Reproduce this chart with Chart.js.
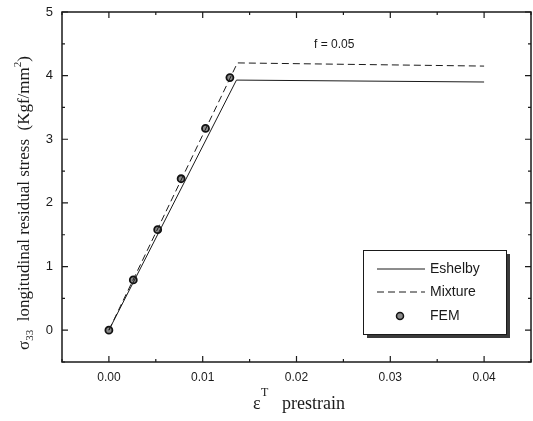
<!DOCTYPE html>
<html>
<head>
<meta charset="utf-8">
<script src="https://cdn.jsdelivr.net/npm/chart.js@4.4.1/dist/chart.umd.min.js"></script>
<style>
  html, body { margin: 0; padding: 0; background: #fff; }
  #wrap { width: 533px; height: 421px; }
</style>
</head>
<body>
<div id="wrap"><canvas id="c" width="533" height="421"></canvas></div>
<script>
// values
const eshelbyX = [0, 0.0136, 0.04];
const eshelbyY = [0, 3.93, 3.90];
const mixtureX = [0, 0.0137, 0.04];
const mixtureY = [0, 4.20, 4.15];
const femX = [0, 0.0026, 0.0052, 0.0077, 0.0103, 0.0129];
const femY = [0, 0.79, 1.58, 2.38, 3.17, 3.97];

const xTicks = [0, 0.01, 0.02, 0.03, 0.04];
const xMinor = [-0.005, 0.005, 0.015, 0.025, 0.035, 0.045];
const yTicks = [0, 1, 2, 3, 4, 5];
const yMinor = [-0.5, 0.5, 1.5, 2.5, 3.5, 4.5];

const INK = "#1a1a1a";
const SANS = "'Liberation Sans', Arial, sans-serif";
const SERIF = "'Liberation Serif', 'Times New Roman', serif";

function pts(xs, ys) {
  return xs.map((x, i) => ({ x: x, y: ys[i] }));
}

// inward ticks on all four sides, frame, titles, legend, note
const decor = {
  id: "decor",
  afterDraw(chart) {
    const ctx = chart.ctx;
    const a = chart.chartArea;
    const xs = chart.scales.x;
    const ys = chart.scales.y;
    ctx.save();
    ctx.strokeStyle = INK;
    ctx.lineWidth = 1.5;
    ctx.strokeRect(a.left, a.top, a.right - a.left, a.bottom - a.top);

    ctx.lineWidth = 1.2;
    ctx.beginPath();
    function xt(list, len) {
      list.forEach((v) => {
        const p = xs.getPixelForValue(v);
        ctx.moveTo(p, a.bottom); ctx.lineTo(p, a.bottom - len);
        ctx.moveTo(p, a.top); ctx.lineTo(p, a.top + len);
      });
    }
    function yt(list, len) {
      list.forEach((v) => {
        const p = ys.getPixelForValue(v);
        ctx.moveTo(a.left, p); ctx.lineTo(a.left + len, p);
        ctx.moveTo(a.right, p); ctx.lineTo(a.right - len, p);
      });
    }
    xt(xTicks, 6); xt(xMinor, 3);
    yt(yTicks, 6); yt(yMinor, 3);
    ctx.stroke();

    // note
    ctx.fillStyle = INK;
    ctx.font = "12px " + SANS;
    ctx.textAlign = "left";
    ctx.textBaseline = "middle";
    ctx.fillText("f = 0.05", 314, 45);

    // x title
    ctx.textBaseline = "alphabetic";
    ctx.font = "18px " + SERIF;
    ctx.fillText("\u03b5", 253, 409);
    ctx.font = "12px " + SERIF;
    ctx.fillText("T", 261, 396);
    ctx.font = "18px " + SERIF;
    ctx.fillText("prestrain", 282, 409);

    // y title (rotated)
    ctx.save();
    ctx.translate(29, 203);
    ctx.rotate(-Math.PI / 2);
    const parts = [
      { t: "\u03c3", f: "17px " + SERIF, dy: 0 },
      { t: "33", f: "11px " + SERIF, dy: 4 },
      { t: "  longitudinal residual stress  (Kgf/mm", f: "17px " + SERIF, dy: 0 },
      { t: "2", f: "11px " + SERIF, dy: -8 },
      { t: ")", f: "17px " + SERIF, dy: 0 }
    ];
    let total = 0;
    parts.forEach((p) => { ctx.font = p.f; p.w = ctx.measureText(p.t).width; total += p.w; });
    let cx = -total / 2;
    ctx.textAlign = "left";
    parts.forEach((p) => {
      ctx.font = p.f;
      ctx.fillText(p.t, cx, p.dy);
      cx += p.w;
    });
    ctx.restore();

    // legend with drop shadow
    const bx = 363, by = 250, bw = 143, bh = 84;
    ctx.fillStyle = "#3a3a3a";
    ctx.fillRect(bx + 4, by + 4, bw, bh);
    ctx.fillStyle = "#fff";
    ctx.fillRect(bx, by, bw, bh);
    ctx.strokeStyle = INK;
    ctx.lineWidth = 1;
    ctx.strokeRect(bx + 0.5, by + 0.5, bw, bh);

    const rows = [269, 292, 316];
    chart.data.datasets.forEach((ds, i) => {
      const yy = rows[i];
      ctx.strokeStyle = ds.borderColor;
      ctx.lineWidth = 1;
      if (ds.showLine === false) {
        ctx.beginPath();
        ctx.arc(400, yy, 3.5, 0, Math.PI * 2);
        ctx.fillStyle = ds.pointBackgroundColor;
        ctx.fill();
        ctx.strokeStyle = ds.pointBorderColor;
        ctx.lineWidth = 1.5;
        ctx.stroke();
      } else {
        ctx.setLineDash(ds.borderDash || []);
        ctx.beginPath();
        ctx.moveTo(377, yy);
        ctx.lineTo(425, yy);
        ctx.stroke();
        ctx.setLineDash([]);
      }
      ctx.fillStyle = INK;
      ctx.font = "14px " + SANS;
      ctx.textBaseline = "middle";
      ctx.fillText(ds.label, 430, yy);
    });
    ctx.restore();
  }
};

new Chart(document.getElementById("c"), {
  type: "scatter",
  data: {
    datasets: [
      {
        label: "Eshelby",
        data: pts(eshelbyX, eshelbyY),
        showLine: true,
        borderColor: INK,
        borderWidth: 1,
        pointRadius: 0
      },
      {
        label: "Mixture",
        data: pts(mixtureX, mixtureY),
        showLine: true,
        borderColor: INK,
        borderWidth: 1,
        borderDash: [7, 4],
        pointRadius: 0
      },
      {
        label: "FEM",
        data: pts(femX, femY),
        showLine: false,
        pointRadius: 3.5,
        pointBackgroundColor: "#8a8a8a",
        pointBorderColor: "#111",
        pointBorderWidth: 1.8,
        borderColor: "#111"
      }
    ]
  },
  options: {
    responsive: false,
    animation: false,
    layout: { autoPadding: false, padding: { top: 12, right: 2, left: 0, bottom: 0 } },
    plugins: {
      legend: { display: false },
      tooltip: { enabled: false }
    },
    scales: {
      x: {
        type: "linear",
        min: -0.005,
        max: 0.045,
        afterBuildTicks: (s) => { s.ticks = xTicks.map((v) => ({ value: v })); },
        afterFit: (s) => {
          s.height = 59;
          s.paddingLeft = 0;
          s.paddingRight = 0;
        },
        grid: { display: false, drawTicks: false },
        border: { display: false },
        ticks: {
          padding: 8,
          color: INK,
          font: { family: SANS, size: 12 },
          callback: (v) => v.toFixed(2)
        }
      },
      y: {
        type: "linear",
        min: -0.5,
        max: 5,
        afterBuildTicks: (s) => { s.ticks = yTicks.map((v) => ({ value: v })); },
        afterFit: (s) => {
          s.width = 62;
          s.paddingTop = 0;
          s.paddingBottom = 0;
        },
        grid: { display: false, drawTicks: false },
        border: { display: false },
        ticks: {
          padding: 9,
          color: INK,
          font: { family: SANS, size: 13 },
          callback: (v) => String(v)
        }
      }
    }
  },
  plugins: [decor]
});
</script>
</body>
</html>
